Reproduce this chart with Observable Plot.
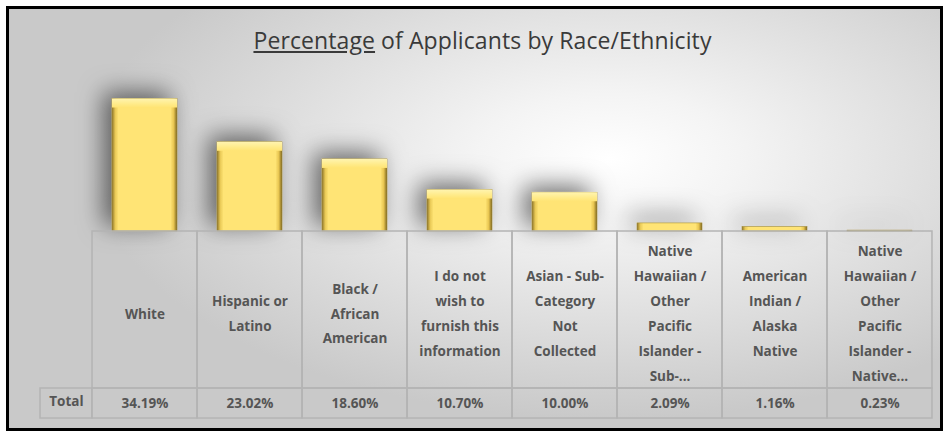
<!DOCTYPE html>
<html><head><meta charset="utf-8">
<script src="https://cdn.jsdelivr.net/npm/d3@7"></script>
<script src="https://cdn.jsdelivr.net/npm/@observablehq/plot@0.6"></script>
<style>
body{margin:0;background:#fff;}
#wrap{position:relative;width:947px;height:437px;overflow:hidden;}
#bg{position:absolute;left:6px;top:6px;width:937px;height:425px;box-sizing:border-box;border:3px solid #000;
 background:radial-gradient(ellipse 520px 260px at 600px 150px,#ffffff 0%,#f4f4f4 25%,#e0e0e0 60%,#c9c9c9 100%);}
#title{position:absolute;top:24px;left:0;width:965px;text-align:center;font:23px "Open Sans",sans-serif;color:#3a3a3a;letter-spacing:0.1px;}
#title span{text-decoration:underline;}
#chart{position:absolute;left:0;top:0;}
</style></head>
<body>
<div id="wrap"><div id="bg"></div><div id="chart"></div><div id="title"><span>Percentage</span> of Applicants by Race/Ethnicity</div></div>
<script>
const categories = ["White","Hispanic or\nLatino","Black /\nAfrican\nAmerican","I do not\nwish to\nfurnish this\ninformation","Asian - Sub-\nCategory\nNot\nCollected","Native\nHawaiian /\nOther\nPacific\nIslander -\nSub-...","American\nIndian /\nAlaska\nNative","Native\nHawaiian /\nOther\nPacific\nIslander -\nNative..."];
const values = [34.19, 23.02, 18.60, 10.70, 10.00, 2.09, 1.16, 0.23];
const valueLabels = ["34.19%","23.02%","18.60%","10.70%","10.00%","2.09%","1.16%","0.23%"];
const rowHeader = "Total";

const data = categories.map((c,i)=>({cat:c, value:values[i], label:valueLabels[i]}));
const W = 947, H = 437, mL = 92, mR = 14, mT = 76, mB = 206;
const pad = 0.38;
const step = (W - mL - mR) / categories.length;
const cellInset = -step * pad / 2;
const rowH = 157, valH = 30;
const font = "'Open Sans', sans-serif";
const txt = "#555555";

const plot = Plot.plot({
  width: W, height: H,
  marginLeft: mL, marginRight: mR, marginTop: mT, marginBottom: mB,
  style: {background: "transparent", overflow: "visible"},
  x: {domain: categories, paddingInner: pad, paddingOuter: pad/2, axis: null},
  y: {domain: [0, 40], axis: null},
  marks: [
    Plot.barY(data, {x: "cat", y: "value", fill: "url(#gold)", stroke: "#a08a3a", strokeWidth: 0.6}),
    Plot.barY(data.filter(d => d.value > 5), {x: "cat", y1: "value", y2: "value", insetBottom: -9, fill: "url(#bevel)"}),
    Plot.barY(data, {x: "cat", y1: 0, y2: 0, insetBottom: -rowH, insetLeft: cellInset, insetRight: cellInset, fill: "none", stroke: "#b4b4b4", strokeWidth: 1.5}),
    Plot.barY(data, {x: "cat", y1: 0, y2: 0, insetTop: rowH, insetBottom: -(rowH + valH), insetLeft: cellInset, insetRight: cellInset, fill: "none", stroke: "#b4b4b4", strokeWidth: 1.5}),
    Plot.barY([rowHeader], {x: () => categories[0], y1: 0, y2: 0, insetTop: rowH, insetBottom: -(rowH + valH), insetLeft: cellInset - 52, insetRight: step + cellInset, fill: "none", stroke: "#b4b4b4", strokeWidth: 1.5}),
    Plot.text(data, {x: "cat", text: "cat", frameAnchor: "bottom", lineAnchor: "middle", dy: 79, lineHeight: 1.85, fontSize: 13.5, fontWeight: 700, fill: txt, fontFamily: font}),
    Plot.text(data, {x: "cat", text: "label", frameAnchor: "bottom", lineAnchor: "middle", dy: 172, fontSize: 13.5, fontWeight: 700, fill: txt, fontFamily: font}),
    Plot.text([rowHeader], {x: () => categories[0], text: d => d, frameAnchor: "bottom", lineAnchor: "middle", dx: -step/2 - 26, dy: 170, fontSize: 13.5, fontWeight: 700, fill: txt, fontFamily: font})
  ]
});

const svg = d3.select(plot);
const defs = svg.insert("defs", ":first-child");
const g = defs.append("linearGradient").attr("id", "gold").attr("x1", 0).attr("x2", 1).attr("y1", 0).attr("y2", 0);
[[0,"#8c7428"],[0.05,"#e9c957"],[0.1,"#ffe474"],[0.9,"#ffe474"],[0.95,"#e8c550"],[1,"#7d6620"]].forEach(([o,c]) => g.append("stop").attr("offset", o).attr("stop-color", c));
const b = defs.append("linearGradient").attr("id", "bevel").attr("x1", 0).attr("x2", 0).attr("y1", 0).attr("y2", 1);
[[0,"#fff4b0"],[0.6,"#ffeb8a"],[1,"#ffe474"]].forEach(([o,c]) => b.append("stop").attr("offset", o).attr("stop-color", c));
const f = defs.append("filter").attr("id", "shadow").attr("x", "-60%").attr("y", "-60%").attr("width", "220%").attr("height", "220%");
f.append("feDropShadow").attr("dx", -8).attr("dy", -6).attr("stdDeviation", 12).attr("flood-color", "#000").attr("flood-opacity", 0.55);
const bars = svg.selectAll('g[aria-label="bar"]').nodes();
d3.select(bars[0]).attr("filter", "url(#shadow)");
document.getElementById("chart").appendChild(plot);
</script>
</body></html>
